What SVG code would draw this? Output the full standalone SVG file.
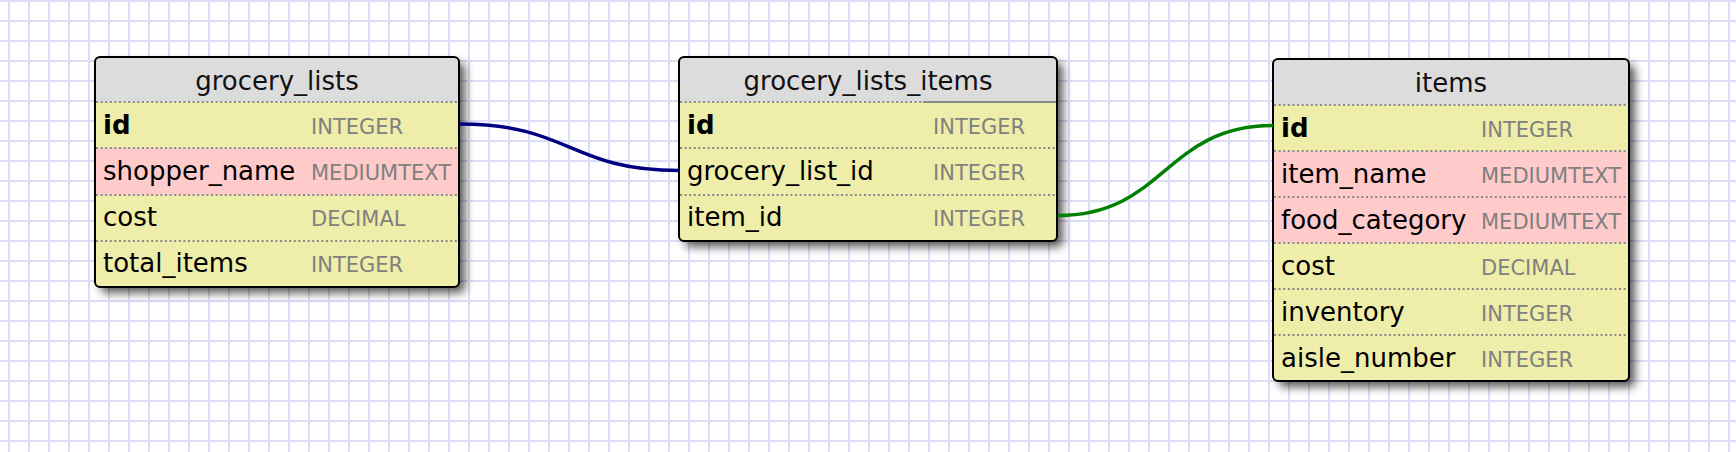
<svg xmlns="http://www.w3.org/2000/svg" width="1736" height="452" viewBox="0 0 1736 452">
<style>
.hdr{fill:#dcdcdc}
.y{fill:#eeeeaa}
.p{fill:#ffcaca}
.sep{stroke:#8a8a8a;stroke-width:2;stroke-dasharray:2 2.6;fill:none}
.sol{stroke:#8a8a8a;stroke-width:2;fill:none}
.box{fill:none;stroke:#000;stroke-width:2}
.sh{fill:#000;filter:url(#blur)}
.title{font-family:"DejaVu Sans",Verdana,sans-serif;font-size:26px;fill:#111;text-anchor:middle}
.f{font-family:"DejaVu Sans",Verdana,sans-serif;font-size:26px;fill:#000}
.pk{font-weight:bold}
.t{font-family:"DejaVu Sans",Verdana,sans-serif;font-size:21px;fill:#808080}
.conn{fill:none;stroke-width:3.4}
</style>
<defs>
<pattern id="grid" patternUnits="userSpaceOnUse" x="0" y="0" width="20" height="20">
<rect width="20" height="20" fill="#ffffff"/>
<rect x="8" y="0" width="2" height="20" fill="#dcdcf5"/>
<rect x="0" y="0" width="20" height="2" fill="#dcdcf5"/>
</pattern>
<filter id="blur" x="-10%" y="-10%" width="130%" height="130%">
<feGaussianBlur stdDeviation="5"/>
</filter>
<clipPath id="c1"><rect x="95" y="57" width="364" height="230" rx="5"/></clipPath>
<clipPath id="c2"><rect x="679" y="57" width="378" height="184" rx="5"/></clipPath>
<clipPath id="c3"><rect x="1273" y="59" width="356" height="322" rx="5"/></clipPath>
</defs>
<rect width="1736" height="452" fill="url(#grid)"/>

<g id="grocery_lists">
<rect class="sh" x="101" y="63" width="364" height="230" rx="5" opacity="0.65"/>
<g clip-path="url(#c1)">
<rect class="hdr" x="95" y="57" width="364" height="45"/>
<rect class="y" x="95" y="102" width="364" height="46"/>
<rect class="p" x="95" y="148" width="364" height="47"/>
<rect class="y" x="95" y="195" width="364" height="46"/>
<rect class="y" x="95" y="241" width="364" height="46"/>
</g>
<path class="sep" d="M96 102H458M96 148H458M96 195H458M96 241H458"/>
<rect class="box" x="95" y="57" width="364" height="230" rx="5"/>
<text class="title" x="277" y="90">grocery_lists</text>
<text class="f pk" x="103" y="134">id</text>
<text class="t" x="311" y="134">INTEGER</text>
<text class="f" x="103" y="180">shopper_name</text>
<text class="t" x="311" y="180">MEDIUMTEXT</text>
<text class="f" x="103" y="226">cost</text>
<text class="t" x="311" y="226">DECIMAL</text>
<text class="f" x="103" y="272">total_items</text>
<text class="t" x="311" y="272">INTEGER</text>
</g>

<g id="grocery_lists_items">
<rect class="sh" x="685" y="63" width="378" height="184" rx="5" opacity="0.65"/>
<g clip-path="url(#c2)">
<rect class="hdr" x="679" y="57" width="378" height="45"/>
<rect class="y" x="679" y="102" width="378" height="139"/>
</g>
<path class="sep" d="M680 102H923M680 148H1056M680 195H1056"/>
<path class="sol" d="M923 102H1056"/>
<rect class="box" x="679" y="57" width="378" height="184" rx="5"/>
<text class="title" x="868" y="90">grocery_lists_items</text>
<text class="f pk" x="687" y="134">id</text>
<text class="t" x="933" y="134">INTEGER</text>
<text class="f" x="687" y="180">grocery_list_id</text>
<text class="t" x="933" y="180">INTEGER</text>
<text class="f" x="687" y="226">item_id</text>
<text class="t" x="933" y="226">INTEGER</text>
</g>

<g id="items">
<rect class="sh" x="1279" y="65" width="356" height="322" rx="5" opacity="0.65"/>
<g clip-path="url(#c3)">
<rect class="hdr" x="1273" y="59" width="356" height="46"/>
<rect class="y" x="1273" y="105" width="356" height="46"/>
<rect class="p" x="1273" y="151" width="356" height="92"/>
<rect class="y" x="1273" y="243" width="356" height="138"/>
</g>
<path class="sep" d="M1274 105H1628M1274 151H1628M1274 197H1628M1274 243H1628M1274 289H1628M1274 335H1628"/>
<rect class="box" x="1273" y="59" width="356" height="322" rx="5"/>
<text class="title" x="1451" y="92">items</text>
<text class="f pk" x="1281" y="137">id</text>
<text class="t" x="1481" y="137">INTEGER</text>
<text class="f" x="1281" y="183">item_name</text>
<text class="t" x="1481" y="183">MEDIUMTEXT</text>
<text class="f" x="1281" y="229">food_category</text>
<text class="t" x="1481" y="229">MEDIUMTEXT</text>
<text class="f" x="1281" y="275">cost</text>
<text class="t" x="1481" y="275">DECIMAL</text>
<text class="f" x="1281" y="321">inventory</text>
<text class="t" x="1481" y="321">INTEGER</text>
<text class="f" x="1281" y="367">aisle_number</text>
<text class="t" x="1481" y="367">INTEGER</text>
</g>

<g id="connectors">
<path class="conn" stroke="#000080" d="M460 124C570 124 570 170.5 679 170.5"/>
<path class="conn" stroke="#008000" d="M1058 215.5C1165 215.5 1165 125.5 1273 125.5"/>
</g>
</svg>
